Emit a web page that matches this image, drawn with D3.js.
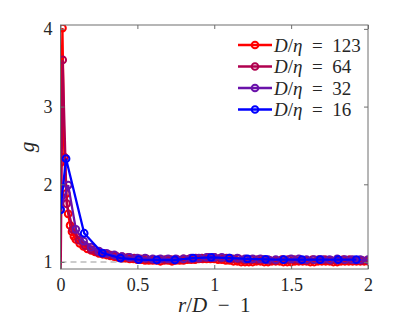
<!DOCTYPE html>
<html>
<head>
<meta charset="utf-8">
<script src="https://cdn.jsdelivr.net/npm/d3@7"></script>
<style>
  body { margin: 0; background: #fff; }
  text { font-family: "Liberation Serif", "DejaVu Serif", serif; fill: #262626; }
</style>
</head>
<body>
<div id="chart"></div>
<script>
// series (x = r/D - 1, y = g)
var x123 = [0, 0.0125, 0.025, 0.0375, 0.05, 0.0625, 0.075, 0.0875, 0.1, 0.125, 0.15, 0.175, 0.2, 0.225, 0.25, 0.275, 0.3, 0.325, 0.35, 0.375, 0.4, 0.425, 0.45, 0.475, 0.5, 0.525, 0.55, 0.575, 0.6, 0.625, 0.65, 0.675, 0.7, 0.725, 0.75, 0.775, 0.8, 0.825, 0.85, 0.875, 0.9, 0.925, 0.95, 0.975, 1.0, 1.025, 1.05, 1.075, 1.1, 1.125, 1.15, 1.175, 1.2, 1.225, 1.25, 1.275, 1.3, 1.325, 1.35, 1.375, 1.4, 1.425, 1.45, 1.475, 1.5, 1.525, 1.55, 1.575, 1.6, 1.625, 1.65, 1.675, 1.7, 1.725, 1.75, 1.775, 1.8, 1.825, 1.85, 1.875, 1.9, 1.925, 1.95, 1.975, 2.0];
var g123 = [2.28, 4.01, 2.35, 1.88, 1.62, 1.47, 1.39, 1.33, 1.29, 1.24, 1.2, 1.17, 1.15, 1.13, 1.11, 1.1, 1.09, 1.08, 1.07, 1.06, 1.05, 1.05, 1.04, 1.04, 1.03, 1.03, 1.02, 1.02, 1.02, 1.02, 1.01, 1.02, 1.02, 1.01, 1.02, 1.02, 1.02, 1.03, 1.03, 1.03, 1.04, 1.04, 1.04, 1.04, 1.04, 1.03, 1.03, 1.02, 1.02, 1.01, 1.01, 1.0, 1.0, 1.0, 1.0, 1.01, 1.01, 1.0, 1.0, 1.01, 1.01, 1.01, 1.0, 1.0, 1.0, 1.01, 1.01, 1.01, 1.01, 1.0, 1.0, 1.01, 1.01, 1.01, 1.01, 1.0, 1.0, 1.01, 1.01, 1.01, 1.01, 1.01, 1.01, 1.01, 1.01];

var x64 = [0, 0.014, 0.04, 0.08, 0.12, 0.16, 0.2, 0.24, 0.28, 0.32, 0.36, 0.4, 0.44, 0.48, 0.52, 0.56, 0.6, 0.64, 0.68, 0.72, 0.76, 0.8, 0.84, 0.88, 0.92, 0.96, 1.0, 1.04, 1.08, 1.12, 1.16, 1.2, 1.24, 1.28, 1.32, 1.36, 1.4, 1.44, 1.48, 1.52, 1.56, 1.6, 1.64, 1.68, 1.72, 1.76, 1.8, 1.84, 1.88, 1.92, 1.96, 2.0];
var g64 = [0.6, 3.6, 1.75, 1.42, 1.28, 1.21, 1.16, 1.13, 1.11, 1.09, 1.08, 1.07, 1.06, 1.05, 1.04, 1.04, 1.03, 1.03, 1.03, 1.03, 1.03, 1.04, 1.04, 1.05, 1.05, 1.06, 1.06, 1.05, 1.05, 1.04, 1.04, 1.03, 1.03, 1.03, 1.03, 1.02, 1.02, 1.03, 1.03, 1.03, 1.02, 1.02, 1.03, 1.03, 1.03, 1.02, 1.02, 1.03, 1.03, 1.02, 1.02, 1.02];

var x32 = [0, 0.05, 0.1, 0.15, 0.2, 0.25, 0.3, 0.35, 0.4, 0.45, 0.5, 0.55, 0.6, 0.65, 0.7, 0.75, 0.8, 0.85, 0.9, 0.95, 1.0, 1.05, 1.1, 1.15, 1.2, 1.25, 1.3, 1.35, 1.4, 1.45, 1.5, 1.55, 1.6, 1.65, 1.7, 1.75, 1.8, 1.85, 1.9, 1.95, 2.0];
var g32 = [1.68, 1.99, 1.42, 1.27, 1.19, 1.14, 1.11, 1.09, 1.07, 1.06, 1.05, 1.05, 1.04, 1.04, 1.04, 1.04, 1.04, 1.05, 1.05, 1.06, 1.06, 1.06, 1.05, 1.05, 1.04, 1.04, 1.04, 1.03, 1.03, 1.03, 1.04, 1.04, 1.03, 1.03, 1.03, 1.03, 1.04, 1.03, 1.03, 1.03, 1.03];

var x16 = [0, 0.036, 0.154, 0.272, 0.39, 0.508, 0.626, 0.744, 0.862, 0.98, 1.098, 1.216, 1.334, 1.452, 1.57, 1.688, 1.806, 1.924];
var g16 = [1.67, 2.33, 1.37, 1.115, 1.05, 1.03, 1.026, 1.026, 1.05, 1.06, 1.05, 1.04, 1.035, 1.03, 1.03, 1.03, 1.03, 1.03];

var labels = ['123', '64', '32', '16'];
var colors = ['#ff0000', '#b0004f', '#6a12aa', '#0000ff'];
var xTicks = [0, 0.5, 1, 1.5, 2];
var yTicks = [1, 2, 3, 4];

var series = [
  {label: labels[0], color: colors[0], xs: x123, ys: g123},
  {label: labels[1], color: colors[1], xs: x64, ys: g64},
  {label: labels[2], color: colors[2], xs: x32, ys: g32},
  {label: labels[3], color: colors[3], xs: x16, ys: g16}
];

var width = 407, height = 326;
var pLeft = 60.5, pRight = 368, pTop = 25, pBottom = 269;

var x = d3.scaleLinear().domain([0, 2]).range([pLeft, pRight]);
var y = d3.scaleLinear().domain([0.91, 4.05]).range([pBottom, pTop]);

var svg = d3.select('#chart').append('svg')
  .attr('width', width)
  .attr('height', height);

svg.append('defs').append('clipPath').attr('id', 'clip')
  .append('rect')
  .attr('x', pLeft).attr('y', pTop)
  .attr('width', pRight - pLeft).attr('height', pBottom - pTop);

var axisColor = '#6e6e6e';

// dashed reference line g = 1
svg.append('line')
  .attr('x1', x(0)).attr('x2', x(2))
  .attr('y1', y(1)).attr('y2', y(1))
  .attr('stroke', '#9a9a9a')
  .attr('stroke-width', 1.2)
  .attr('stroke-dasharray', '6,4');

var plot = svg.append('g').attr('clip-path', 'url(#clip)');
var line = d3.line()
  .x(function(d) { return x(d[0]); })
  .y(function(d) { return y(d[1]); });

series.forEach(function(s) {
  var pts = s.xs.map(function(v, i) { return [v, s.ys[i]]; });
  plot.append('path')
    .datum(pts)
    .attr('d', line)
    .attr('fill', 'none')
    .attr('stroke', s.color)
    .attr('stroke-width', 2.3);
  plot.selectAll(null)
    .data(pts)
    .enter()
    .append('circle')
    .attr('cx', function(d) { return x(d[0]); })
    .attr('cy', function(d) { return y(d[1]); })
    .attr('r', 3.4)
    .attr('fill', 'none')
    .attr('stroke', s.color)
    .attr('stroke-width', 2);
});

// axes box
var tickLen = 4;
var gx = svg.append('g').attr('transform', 'translate(0,' + pBottom + ')')
  .call(d3.axisBottom(x).tickValues(xTicks).tickSize(-tickLen).tickPadding(9)
    .tickFormat(function(d) { return d; }));
var gxt = svg.append('g').attr('transform', 'translate(0,' + pTop + ')')
  .call(d3.axisTop(x).tickValues(xTicks).tickSize(-tickLen).tickFormat(''));
var gy = svg.append('g').attr('transform', 'translate(' + pLeft + ',0)')
  .call(d3.axisLeft(y).tickValues(yTicks).tickSize(-tickLen).tickPadding(8)
    .tickFormat(d3.format('d')));
var gyr = svg.append('g').attr('transform', 'translate(' + pRight + ',0)')
  .call(d3.axisRight(y).tickValues(yTicks).tickSize(-tickLen).tickFormat(''));

[gx, gxt, gy, gyr].forEach(function(g) {
  g.select('.domain').remove();
  g.selectAll('line').attr('stroke', axisColor);
  g.selectAll('text')
    .style('font-family', '"Liberation Serif", serif')
    .style('font-size', '18px')
    .attr('fill', '#262626');
});

svg.append('rect')
  .attr('x', pLeft).attr('y', pTop)
  .attr('width', pRight - pLeft).attr('height', pBottom - pTop)
  .attr('fill', 'none')
  .attr('stroke', axisColor)
  .attr('stroke-width', 1);

// axis labels
var xl = svg.append('text')
  .attr('x', (pLeft + pRight) / 2)
  .attr('y', 312)
  .attr('text-anchor', 'middle')
  .style('font-size', '21px');
xl.append('tspan').style('font-style', 'italic').text('r');
xl.append('tspan').text('/');
xl.append('tspan').style('font-style', 'italic').text('D');
xl.append('tspan').text('\u2002\u2212\u20021');

svg.append('text')
  .attr('transform', 'translate(34,' + ((pTop + pBottom) / 2) + ') rotate(-90)')
  .attr('text-anchor', 'middle')
  .style('font-size', '21px')
  .style('font-style', 'italic')
  .text('g');

// legend
var legend = svg.selectAll('.legend')
  .data(series)
  .enter()
  .append('g')
  .attr('class', 'legend')
  .attr('transform', function(d, i) { return 'translate(238,' + (45 + i * 21.5) + ')'; });
legend.append('line')
  .attr('x1', 0).attr('x2', 34)
  .attr('stroke', function(d) { return d.color; })
  .attr('stroke-width', 2.3);
legend.append('circle')
  .attr('cx', 17).attr('r', 3.3)
  .attr('fill', 'none')
  .attr('stroke', function(d) { return d.color; })
  .attr('stroke-width', 2);
var lt = legend.append('text')
  .attr('x', 36)
  .attr('y', 6.5)
  .style('font-size', '19px');
lt.append('tspan').style('font-style', 'italic').text('D');
lt.append('tspan').text('/');
lt.append('tspan').style('font-style', 'italic').text('\u03b7');
lt.append('tspan').text(function(d) { return '\u2002=\u2002' + d.label; });
</script>
</body>
</html>
